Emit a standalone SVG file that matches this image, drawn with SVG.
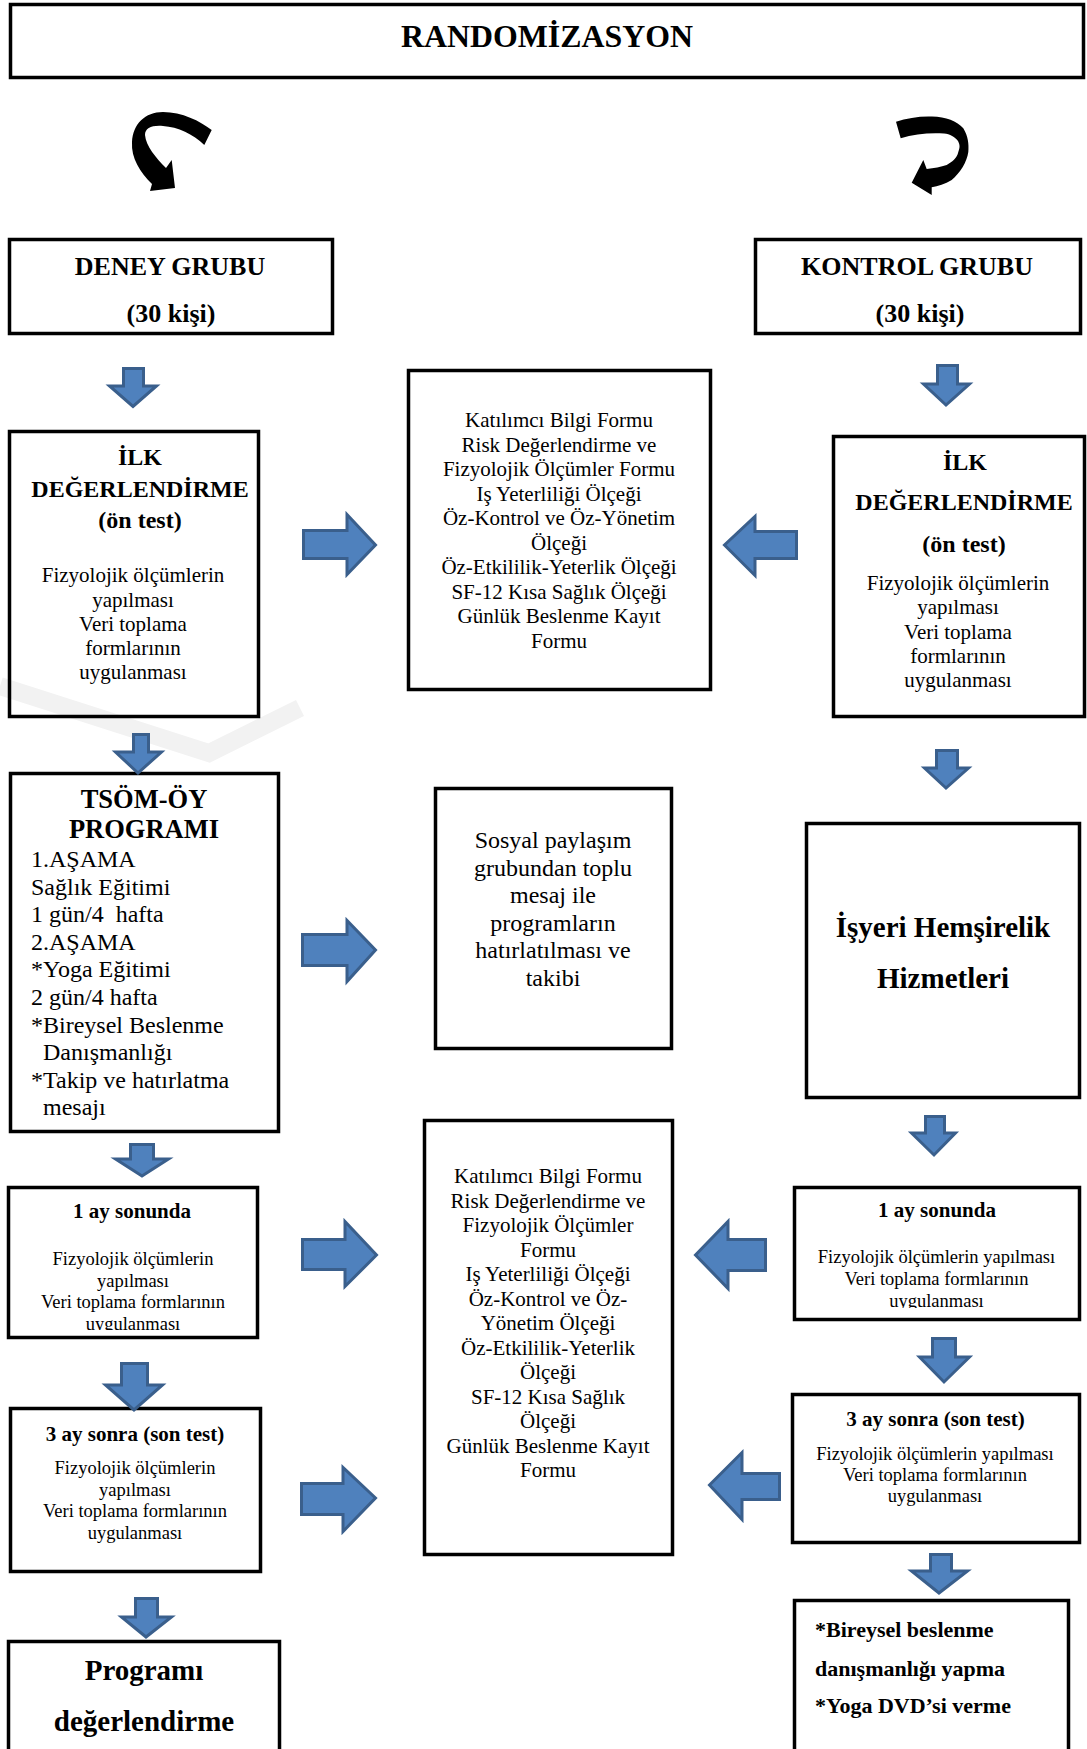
<svg xmlns="http://www.w3.org/2000/svg" width="1087" height="1749" viewBox="0 0 1087 1749">
  <style>
    .box { fill: none; stroke: #000; stroke-width: 3.5; }
    .blk { fill: #4f81bd; stroke: #3a5f8c; stroke-width: 3; stroke-linejoin: miter; }
    .curve { fill: #000; }
    .wm { fill: none; stroke: #f2f2f2; stroke-width: 18; stroke-linecap: butt; stroke-linejoin: miter; }
    text { font-family: "Liberation Serif", "Times New Roman", serif; fill: #000; }
    .c { text-anchor: middle; }
    .b { font-weight: bold; }
    .t21 { font-size: 21px; }
    .t24 { font-size: 24px; }
    .s18 { font-size: 18.5px; }
  </style>
  <defs>
    <clipPath id="clipL1"><rect x="10" y="1189" width="246" height="141"/></clipPath>
    <clipPath id="clipR1"><rect x="796" y="1189" width="281" height="119"/></clipPath>
  </defs>
  <rect width="1087" height="1749" fill="#fff"/>

  <!-- faint page watermark behind the chart -->
  <g id="watermark">
    <path class="wm" d="M0,686 L209,753 L300,708"/>
  </g>

  <!-- header -->
  <g id="randomizasyon">
    <rect class="box" x="10.5" y="4.5" width="1073" height="73"/>
    <text class="c b" x="547" y="47" font-size="32" textLength="292" lengthAdjust="spacingAndGlyphs">RANDOMİZASYON</text>
  </g>

  <!-- split arrows under the header -->
  <g id="split-arrows">
    <path class="curve" d="M211.7,130 C200,121 182,112 163,112 C145,112 133,124 132,142 C131,158 140,172 152,184 L150,191 L175,188 L171.7,160 L166,168 C156,158 146,146 145,135 C145,128 152,125 163,126 C178,127 193,134 204.3,145 Z"/>
    <path class="curve" d="M896,121.7 C907,118 920,116 932,116.5 C946,117 957,121 963.3,128.3 C968,136 969,144 968.3,152 C967,162 960,173 951.7,180 C945,184 938,186 931.7,187.3 L931.7,195 L911.7,182.7 L923.3,160 L926.7,169 C934,168 941,167 946.7,165 C952,162 957,158 958.3,152 C960,147 960,145 958,141 C955,137 950,134 944,133.5 C930,132.5 914,134 900.7,138.3 Z"/>
  </g>

  <!-- group headers -->
  <g id="deney-grubu">
    <rect class="box" x="9.5" y="239.5" width="323" height="94"/>
    <text class="c b" x="170" y="275" font-size="26">DENEY GRUBU</text>
    <text class="c b" x="171" y="322" font-size="26">(30 kişi)</text>
  </g>
  <g id="kontrol-grubu">
    <rect class="box" x="755.5" y="239.5" width="325" height="94"/>
    <text class="c b" x="917" y="275" font-size="26">KONTROL GRUBU</text>
    <text class="c b" x="920" y="322" font-size="26">(30 kişi)</text>
  </g>

  <!-- pre-test boxes -->
  <g id="ilk-deney">
    <rect class="box" x="9.5" y="431.5" width="249" height="285"/>
    <text class="c b t24" x="140" y="465">İLK</text>
    <text class="c b t24" x="140" y="497">DEĞERLENDİRME</text>
    <text class="c b t24" x="140" y="528">(ön test)</text>
    <text class="c t21" x="133" y="582">Fizyolojik ölçümlerin</text>
    <text class="c t21" x="133" y="606.5">yapılması</text>
    <text class="c t21" x="133" y="631">Veri toplama</text>
    <text class="c t21" x="133" y="655">formlarının</text>
    <text class="c t21" x="133" y="679">uygulanması</text>
  </g>
  <g id="olcekler-1">
    <rect class="box" x="408.5" y="370.5" width="302" height="319"/>
    <text class="c t21" x="559" y="427">Katılımcı Bilgi Formu</text>
    <text class="c t21" x="559" y="451.5">Risk Değerlendirme ve</text>
    <text class="c t21" x="559" y="476">Fizyolojik Ölçümler Formu</text>
    <text class="c t21" x="559" y="500.5">Iş Yeterliliği Ölçeği</text>
    <text class="c t21" x="559" y="525">Öz-Kontrol ve Öz-Yönetim</text>
    <text class="c t21" x="559" y="549.5">Ölçeği</text>
    <text class="c t21" x="559" y="574">Öz-Etkililik-Yeterlik Ölçeği</text>
    <text class="c t21" x="559" y="598.5">SF-12 Kısa Sağlık Ölçeği</text>
    <text class="c t21" x="559" y="623">Günlük Beslenme Kayıt</text>
    <text class="c t21" x="559" y="647.5">Formu</text>
  </g>
  <g id="ilk-kontrol">
    <rect class="box" x="833.5" y="436.5" width="251" height="280"/>
    <text class="c b t24" x="965" y="470">İLK</text>
    <text class="c b t24" x="964" y="510">DEĞERLENDİRME</text>
    <text class="c b t24" x="964" y="552">(ön test)</text>
    <text class="c t21" x="958" y="590">Fizyolojik ölçümlerin</text>
    <text class="c t21" x="958" y="614">yapılması</text>
    <text class="c t21" x="958" y="638.5">Veri toplama</text>
    <text class="c t21" x="958" y="662.5">formlarının</text>
    <text class="c t21" x="958" y="687">uygulanması</text>
  </g>

  <!-- intervention -->
  <g id="tsom-oy">
    <rect class="box" x="10.5" y="773.5" width="268" height="358"/>
    <text class="c b" x="144" y="808" font-size="26.5">TSÖM-ÖY</text>
    <text class="c b" x="144" y="838" font-size="26.5">PROGRAMI</text>
    <text class="t24" x="31" y="867">1.AŞAMA</text>
    <text class="t24" x="31" y="894.6">Sağlık Eğitimi</text>
    <text class="t24" x="31" y="922.2" xml:space="preserve">1 gün/4  hafta</text>
    <text class="t24" x="31" y="949.8">2.AŞAMA</text>
    <text class="t24" x="31" y="977.4">*Yoga Eğitimi</text>
    <text class="t24" x="31" y="1005">2 gün/4 hafta</text>
    <text class="t24" x="31" y="1032.6">*Bireysel Beslenme</text>
    <text class="t24" x="43" y="1060.2">Danışmanlığı</text>
    <text class="t24" x="31" y="1087.8">*Takip ve hatırlatma</text>
    <text class="t24" x="43" y="1115.4">mesajı</text>
  </g>
  <g id="sosyal-paylasim">
    <rect class="box" x="435.5" y="788.5" width="236" height="260"/>
    <text class="c t24" x="553" y="848">Sosyal paylaşım</text>
    <text class="c t24" x="553" y="875.6">grubundan toplu</text>
    <text class="c t24" x="553" y="903.2">mesaj ile</text>
    <text class="c t24" x="553" y="930.8">programların</text>
    <text class="c t24" x="553" y="958.4">hatırlatılması ve</text>
    <text class="c t24" x="553" y="986">takibi</text>
  </g>
  <g id="isyeri-hemsirelik">
    <rect class="box" x="806.5" y="823.5" width="273" height="274"/>
    <text class="c b" x="943" y="937" font-size="29">İşyeri Hemşirelik</text>
    <text class="c b" x="943" y="988" font-size="29">Hizmetleri</text>
  </g>

  <!-- follow-up -->
  <g id="bir-ay-deney">
    <rect class="box" x="8.5" y="1187.5" width="249" height="150"/>
    <text class="c b t21" x="132" y="1218">1 ay sonunda</text>
    <g clip-path="url(#clipL1)">
      <text class="c s18" x="133" y="1265">Fizyolojik ölçümlerin</text>
      <text class="c s18" x="133" y="1286.5">yapılması</text>
      <text class="c s18" x="133" y="1308">Veri toplama formlarının</text>
      <text class="c s18" x="133" y="1329.5">uygulanması</text>
    </g>
  </g>
  <g id="olcekler-2">
    <rect class="box" x="424.5" y="1120.5" width="248" height="434"/>
    <text class="c t21" x="548" y="1183">Katılımcı Bilgi Formu</text>
    <text class="c t21" x="548" y="1207.5">Risk Değerlendirme ve</text>
    <text class="c t21" x="548" y="1232">Fizyolojik Ölçümler</text>
    <text class="c t21" x="548" y="1256.5">Formu</text>
    <text class="c t21" x="548" y="1281">Iş Yeterliliği Ölçeği</text>
    <text class="c t21" x="548" y="1305.5">Öz-Kontrol ve Öz-</text>
    <text class="c t21" x="548" y="1330">Yönetim Ölçeği</text>
    <text class="c t21" x="548" y="1354.5">Öz-Etkililik-Yeterlik</text>
    <text class="c t21" x="548" y="1379">Ölçeği</text>
    <text class="c t21" x="548" y="1403.5">SF-12 Kısa Sağlık</text>
    <text class="c t21" x="548" y="1428">Ölçeği</text>
    <text class="c t21" x="548" y="1452.5">Günlük Beslenme Kayıt</text>
    <text class="c t21" x="548" y="1477">Formu</text>
  </g>
  <g id="bir-ay-kontrol">
    <rect class="box" x="794.5" y="1187.5" width="285" height="132"/>
    <text class="c b t21" x="937" y="1217">1 ay sonunda</text>
    <g clip-path="url(#clipR1)">
      <text class="c s18" x="936.5" y="1263">Fizyolojik ölçümlerin yapılması</text>
      <text class="c s18" x="936.5" y="1285">Veri toplama formlarının</text>
      <text class="c s18" x="936.5" y="1307">uygulanması</text>
    </g>
  </g>
  <g id="uc-ay-deney">
    <rect class="box" x="10.5" y="1408.5" width="250" height="163"/>
    <text class="c b t21" x="135" y="1441">3 ay sonra (son test)</text>
    <text class="c s18" x="135" y="1474">Fizyolojik ölçümlerin</text>
    <text class="c s18" x="135" y="1495.5">yapılması</text>
    <text class="c s18" x="135" y="1517">Veri toplama formlarının</text>
    <text class="c s18" x="135" y="1538.5">uygulanması</text>
  </g>
  <g id="uc-ay-kontrol">
    <rect class="box" x="792.5" y="1394.5" width="287" height="148"/>
    <text class="c b t21" x="935.5" y="1426">3 ay sonra (son test)</text>
    <text class="c s18" x="935" y="1460">Fizyolojik ölçümlerin yapılması</text>
    <text class="c s18" x="935" y="1481">Veri toplama formlarının</text>
    <text class="c s18" x="935" y="1502">uygulanması</text>
  </g>
  <g id="program-degerlendirme">
    <rect class="box" x="8.5" y="1641.5" width="271" height="130"/>
    <text class="c b" x="144" y="1680" font-size="29">Programı</text>
    <text class="c b" x="144" y="1731" font-size="29">değerlendirme</text>
  </g>
  <g id="bireysel-beslenme">
    <rect class="box" x="794.5" y="1600.5" width="274" height="160"/>
    <text class="b" x="815" y="1637" font-size="22">*Bireysel beslenme</text>
    <text class="b" x="815" y="1676" font-size="22">danışmanlığı yapma</text>
    <text class="b" x="815" y="1713" font-size="22">*Yoga DVD’si verme</text>
  </g>

  <!-- block arrows between steps -->
  <g id="connectors">
    <!-- downward -->
    <path class="blk" d="M123.5,368.5 H143.5 V386 H156.5 L133,406.5 L109.5,386 H123.5 Z"/>
    <path class="blk" d="M937.5,365.5 H957.5 V384 H969.5 L946,405 L923.5,384 H937.5 Z"/>
    <path class="blk" d="M133.5,734.5 H148.5 V752 H161.5 L138,773 L115.5,752 H133.5 Z"/>
    <path class="blk" d="M936.5,750.5 H957.5 V768 H968.5 L946,788 L924.5,768 H936.5 Z"/>
    <path class="blk" d="M925.5,1116.5 H944.5 V1133 H955.5 L934,1155 L911.5,1133 H925.5 Z"/>
    <path class="blk" d="M932.5,1338.5 H955.5 V1357 H969.5 L944,1382 L919.5,1357 H932.5 Z"/>
    <path class="blk" d="M930.5,1554.5 H951.5 V1571 H967.5 L939,1593 L911.5,1571 H930.5 Z"/>
    <path class="blk" d="M130.5,1144.5 H153.5 V1159 H168.5 L142,1176 L115.5,1159 H130.5 Z"/>
    <path class="blk" d="M121.5,1363.5 H147.5 V1385 H162.5 L134,1410 L105.5,1385 H121.5 Z"/>
    <path class="blk" d="M135.5,1598.5 H157.5 V1617 H171.5 L146,1637 L121.5,1617 H135.5 Z"/>
    <!-- rightward -->
    <path class="blk" d="M303.5,530.5 H347 V514.5 L375.5,545 L347,574.5 V558.5 H303.5 Z"/>
    <path class="blk" d="M302.5,934.5 H347 V920.5 L375.5,950 L347,981.5 V965.5 H302.5 Z"/>
    <path class="blk" d="M302.5,1239.5 H345 V1221.5 L376.5,1255 L345,1286.5 V1269.5 H302.5 Z"/>
    <path class="blk" d="M301.5,1483.5 H343 V1467.5 L375.5,1498 L343,1531.5 V1514.5 H301.5 Z"/>
    <!-- leftward -->
    <path class="blk" d="M796.5,531.5 H755 V516.5 L724.5,545 L755,575.5 V558.5 H796.5 Z"/>
    <path class="blk" d="M765.5,1239.5 H728 V1221.5 L695.5,1255 L728,1288.5 V1270.5 H765.5 Z"/>
    <path class="blk" d="M779.5,1473.5 H742 V1452.5 L709.5,1485 L742,1519.5 V1499.5 H779.5 Z"/>
  </g>
</svg>
